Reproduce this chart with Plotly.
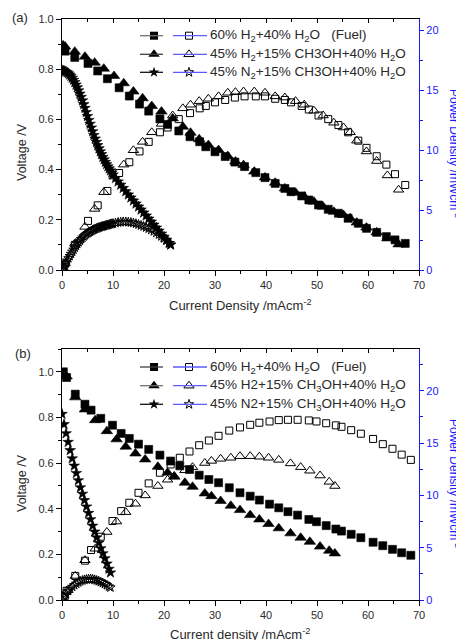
import plotly.graph_objects as go

# ---------------- data: panel (a) ----------------
a_fuel_x = [0.2, 0.6, 2.5, 5.1, 7.0, 8.9, 11.2, 13.2, 15.2, 17.0, 19.2, 20.7, 22.9, 25.1, 27.0, 28.2,
            30.0, 32.0, 33.9, 35.8, 38.0, 39.8, 41.8, 43.7, 44.9, 47.0, 48.4, 50.3, 52.2, 54.2, 56.1,
            58.1, 59.7, 61.7, 63.6, 65.3, 67.3]
a_fuel_v = [0.880, 0.872, 0.847, 0.823, 0.793, 0.762, 0.726, 0.693, 0.661, 0.633, 0.602, 0.580, 0.554,
            0.531, 0.511, 0.491, 0.471, 0.452, 0.430, 0.412, 0.388, 0.368, 0.345, 0.325, 0.312, 0.295,
            0.279, 0.259, 0.242, 0.226, 0.206, 0.186, 0.166, 0.150, 0.133, 0.120, 0.106]
a_fuel_p = [0.18, 0.52, 2.1, 4.1, 5.4, 6.6, 8.1, 9.0, 9.9, 10.7, 11.5, 11.9, 12.6, 13.1, 13.5, 13.7,
            14.0, 14.2, 14.4, 14.5, 14.5, 14.5, 14.3, 14.2, 14.0, 13.7, 13.4, 12.9, 12.6, 12.1, 11.5,
            10.8, 10.2, 9.5, 8.8, 8.0, 7.1]

a_h2m_x = [0.2, 0.6, 2.5, 4.5, 6.4, 8.2, 10.2, 12.1, 14.0, 15.8, 17.6, 19.5, 21.7, 23.7, 25.2, 26.9,
           28.7, 30.7, 32.5, 34.0, 35.6, 37.7, 39.8, 41.8, 43.7, 45.8, 47.5, 49.4, 51.2, 53.3, 55.2,
           56.5, 57.8, 59.7, 61.7, 63.8, 66.0]
a_h2m_v = [0.895, 0.890, 0.870, 0.850, 0.826, 0.802, 0.773, 0.744, 0.711, 0.684, 0.653, 0.631, 0.604,
           0.571, 0.547, 0.521, 0.498, 0.478, 0.454, 0.432, 0.418, 0.392, 0.369, 0.348, 0.325, 0.308,
           0.292, 0.272, 0.252, 0.232, 0.219, 0.206, 0.189, 0.169, 0.150, 0.126, 0.102]
a_h2m_p = [0.18, 0.53, 2.2, 3.6, 5.1, 6.5, 7.8, 8.8, 10.0, 10.7, 11.5, 12.2, 12.9, 13.5, 13.8, 14.1,
           14.3, 14.5, 14.8, 14.85, 14.9, 14.9, 14.8, 14.5, 14.4, 14.1, 13.8, 13.3, 12.9, 12.3, 11.9,
           11.5, 10.8, 9.9, 9.1, 7.9, 6.7]

a_n2m_x = [0, 0.25, 0.5, 0.75, 1, 1.25, 1.5, 1.75, 2, 2.25, 2.5, 2.75, 3, 3.25, 3.5, 3.75, 4, 4.25,
           4.5, 4.75, 5, 5.25, 5.5, 5.75, 6, 6.25, 6.5, 6.75, 7, 7.25, 7.5, 7.75, 8, 8.25, 8.5, 8.75,
           9, 9.25, 9.5, 9.75, 10, 10.5, 11, 11.5, 12, 12.5, 13, 13.5, 14, 14.5, 15, 15.5, 16, 16.5,
           17, 17.5, 18, 18.5, 19, 19.5, 20, 20.5, 21, 21.3]
a_n2m_v = [0.795, 0.794, 0.792, 0.790, 0.787, 0.783, 0.778, 0.772, 0.765, 0.757, 0.748, 0.738, 0.727,
           0.715, 0.702, 0.689, 0.675, 0.660, 0.645, 0.629, 0.613, 0.597, 0.582, 0.567, 0.552, 0.537,
           0.523, 0.510, 0.497, 0.484, 0.472, 0.461, 0.450, 0.440, 0.430, 0.421, 0.412, 0.404, 0.396,
           0.388, 0.380, 0.366, 0.352, 0.339, 0.326, 0.313, 0.300, 0.288, 0.276, 0.264, 0.252, 0.240,
           0.228, 0.216, 0.204, 0.192, 0.180, 0.168, 0.156, 0.144, 0.132, 0.120, 0.107, 0.100]
a_n2m_p = [0.0, 0.2, 0.4, 0.59, 0.79, 0.98, 1.17, 1.35, 1.53, 1.70, 1.87, 2.03, 2.18, 2.32, 2.46, 2.58,
           2.70, 2.81, 2.90, 2.99, 3.07, 3.14, 3.20, 3.26, 3.33, 3.38, 3.43, 3.47, 3.51, 3.55, 3.59,
           3.62, 3.65, 3.68, 3.71, 3.74, 3.77, 3.80, 3.83, 3.86, 3.88, 3.93, 3.97, 4.00, 4.02, 4.02,
           4.00, 3.97, 3.93, 3.87, 3.80, 3.72, 3.64, 3.55, 3.46, 3.35, 3.23, 3.10, 2.96, 2.81, 2.64,
           2.46, 2.25, 2.13]

# ---------------- data: panel (b) ----------------
b_fuel_x = [0.26, 0.9, 2.6, 4.5, 5.7, 7.6, 9.9, 11.6, 13.2, 15.0, 17.0, 19.2, 21.3, 23.1, 25.0, 26.9,
            28.8, 30.7, 32.8, 34.9, 36.9, 38.7, 40.7, 42.5, 44.3, 46.2, 48.4, 49.9, 51.8, 53.7, 54.8,
            56.7, 58.6, 61.0, 62.9, 64.8, 66.6, 68.4]
b_fuel_v = [1.000, 0.975, 0.902, 0.858, 0.832, 0.796, 0.766, 0.730, 0.708, 0.683, 0.660, 0.635, 0.609,
            0.588, 0.572, 0.547, 0.528, 0.514, 0.492, 0.470, 0.455, 0.438, 0.420, 0.404, 0.387, 0.372,
            0.353, 0.343, 0.326, 0.311, 0.302, 0.288, 0.273, 0.253, 0.238, 0.222, 0.207, 0.196]
b_fuel_p = [0.26, 0.88, 2.3, 3.76, 4.78, 6.05, 7.55, 8.5, 9.3, 10.25, 11.15, 12.17, 12.96, 13.6, 14.2,
            14.8, 15.25, 15.7, 16.2, 16.5, 16.75, 16.95, 17.07, 17.2, 17.23, 17.23, 17.17, 17.07, 16.9,
            16.7, 16.56, 16.24, 15.9, 15.4, 14.9, 14.46, 13.9, 13.4]

b_h2m_x = [0.3, 0.9, 2.6, 4.5, 6.5, 8.8, 10.7, 12.5, 14.4, 16.3, 18.8, 20.7, 22.0, 24.1, 25.6, 28.0,
           29.3, 31.1, 33.1, 34.9, 36.9, 38.7, 40.5, 42.5, 44.8, 46.8, 48.6, 50.6, 52.4, 53.5]
b_h2m_v = [0.990, 0.980, 0.888, 0.835, 0.788, 0.740, 0.704, 0.672, 0.642, 0.616, 0.584, 0.558, 0.540,
           0.514, 0.496, 0.467, 0.455, 0.434, 0.413, 0.394, 0.372, 0.353, 0.333, 0.314, 0.292, 0.273,
           0.255, 0.234, 0.216, 0.204]
b_h2m_p = [0.3, 0.88, 2.3, 3.8, 4.9, 6.5, 7.5, 8.4, 9.2, 10.0, 10.9, 11.5, 11.85, 12.4, 12.7, 13.1,
           13.3, 13.5, 13.6, 13.75, 13.75, 13.7, 13.6, 13.4, 13.06, 12.7, 12.36, 11.9, 11.3, 10.9]

b_n2m_x = [0, 0.4, 0.8, 1.2, 1.6, 2.0, 2.4, 2.8, 3.2, 3.6, 4.0, 4.4, 4.8, 5.2, 5.6, 6.0, 6.4, 6.8,
           7.2, 7.6, 8.0, 8.4, 8.8, 9.2, 9.5]
b_n2m_v = [0.815, 0.770, 0.730, 0.692, 0.656, 0.620, 0.588, 0.556, 0.524, 0.493, 0.465, 0.437, 0.409,
           0.381, 0.353, 0.325, 0.299, 0.274, 0.250, 0.226, 0.204, 0.182, 0.159, 0.136, 0.120]
b_n2m_p = [0.02, 0.31, 0.60, 0.85, 1.07, 1.26, 1.42, 1.56, 1.68, 1.78, 1.87, 1.93, 1.97, 1.99, 2.00,
           1.98, 1.93, 1.87, 1.80, 1.72, 1.63, 1.53, 1.42, 1.30, 1.20]

legend_a = ["60% H<sub>2</sub>+40% H<sub>2</sub>O   (Fuel)",
            "45% H<sub>2</sub>+15% CH3OH+40% H<sub>2</sub>O",
            "45% N<sub>2</sub>+15% CH3OH+40% H<sub>2</sub>O"]
legend_b = ["60% H<sub>2</sub>+40% H<sub>2</sub>O   (Fuel)",
            "45% H2+15% CH<sub>3</sub>OH+40% H<sub>2</sub>O",
            "45% N2+15% CH<sub>3</sub>OH+40% H<sub>2</sub>O"]

# ---------------- layout geometry (screen pixels) ----------------
# the page body adds an 8 px margin, so the figure is drawn 8 px in from the window corner
OFF = 8
W, H = 464 - OFF, 640 - OFF
PLOT_L, PLOT_R, PLOT_T, PLOT_B = 62, 419, 19, 600   # plot-area edges in screen pixels
L, T = PLOT_L - OFF, PLOT_T - OFF
R, B = W - (PLOT_R - OFF), H - (PLOT_B - OFF)
PW, PH = W - L - R, H - T - B


def fx(px):
    return (px - OFF - L) / PW


def fy(py):
    return (H - B - (py - OFF)) / PH


FONT = "Liberation Sans, Arial, sans-serif"
TXT = "#2a2a2a"
BLUE = "#1a1aff"
LBLUE = "#5a5aff"

fig = go.Figure()

filled = dict(fuel="square", h2m="triangle-up", n2m="star")
opened = dict(fuel="square-open", h2m="triangle-up-open", n2m="star-open")
sizes = dict(fuel=8, h2m=10, n2m=8)


def add_panel(xa, ya, ya2, series):
    for key, xs, vs, ps in series:
        fig.add_trace(go.Scatter(x=xs, y=vs, mode="markers", xaxis=xa, yaxis=ya, showlegend=False,
                                 marker=dict(symbol=filled[key], size=sizes[key], color="black",
                                             line=dict(width=0.6, color="black"))))
        fig.add_trace(go.Scatter(x=xs, y=ps, mode="markers", xaxis=xa, yaxis=ya2, showlegend=False,
                                 marker=dict(symbol=opened[key], size=sizes[key] - 1, color="black",
                                             line=dict(width=1, color="black"))))


add_panel("x", "y", "y2", [("fuel", a_fuel_x, a_fuel_v, a_fuel_p),
                           ("h2m", a_h2m_x, a_h2m_v, a_h2m_p),
                           ("n2m", a_n2m_x, a_n2m_v, a_n2m_p)])
add_panel("x2", "y3", "y4", [("fuel", b_fuel_x, b_fuel_v, b_fuel_p),
                             ("h2m", b_h2m_x, b_h2m_v, b_h2m_p),
                             ("n2m", b_n2m_x, b_n2m_v, b_n2m_p)])

# ---------------- custom legends ----------------
shapes = []
annotations = []
keys = ["fuel", "h2m", "n2m"]


def add_legend(rows_y, texts, gray_cols):
    for i, (py, txt) in enumerate(zip(rows_y, texts)):
        shapes.append(dict(type="line", xref="paper", yref="paper", x0=fx(140), x1=fx(163),
                           y0=fy(py), y1=fy(py), line=dict(color=gray_cols[i], width=1.3)))
        shapes.append(dict(type="line", xref="paper", yref="paper", x0=fx(173), x1=fx(207),
                           y0=fy(py), y1=fy(py), line=dict(color=LBLUE, width=1.3)))
        fig.add_trace(go.Scatter(x=[fx(154)], y=[fy(py)], mode="markers", xaxis="x5", yaxis="y5",
                                 showlegend=False,
                                 marker=dict(symbol=filled[keys[i]], size=sizes[keys[i]], color="black")))
        fig.add_trace(go.Scatter(x=[fx(189)], y=[fy(py)], mode="markers", xaxis="x5", yaxis="y5",
                                 showlegend=False,
                                 marker=dict(symbol=opened[keys[i]], size=sizes[keys[i]] - 1,
                                             color="black", line=dict(width=1))))
        annotations.append(dict(x=fx(208), y=fy(py), xref="paper", yref="paper", text=txt,
                                showarrow=False, xanchor="left", yanchor="middle",
                                font=dict(family=FONT, size=13.5, color=TXT)))


add_legend([35.7, 54.3, 72.3], legend_a, ["#707070", "#404040", "#101010"])
add_legend([367.0, 385.7, 404.3], legend_b, ["#404040", "#707070", "#101010"])


# ---------------- titles / labels ----------------
def ann(px, py, text, size=13, color=TXT, angle=0, xanchor="center"):
    annotations.append(dict(x=fx(px), y=fy(py), xref="paper", yref="paper", text=text,
                            showarrow=False, textangle=angle, xanchor=xanchor, yanchor="middle",
                            font=dict(family=FONT, size=size, color=color)))


ann(20, 18, "(a)", 13)
ann(23, 353, "(b)", 13)
ann(22, 152, "Voltage /V", 12.5, angle=-90)
ann(22, 483, "Voltage /V", 12.5, angle=-90)
ann(455, 153, "Power Density /mWcm<sup>-2</sup>", 12, BLUE, angle=90)
ann(455, 483, "Power Density /mWcm<sup>-2</sup>", 12, BLUE, angle=90)
ann(240, 305, "Current Density /mAcm<sup>-2</sup>", 13)
ann(240, 634, "Current density /mAcm<sup>-2</sup>", 13)

# ---------------- axes ----------------
dom_a = [fy(270), 1.0]
dom_b = [0.0, fy(349)]
tickfont = dict(family=FONT, size=11, color=TXT)
tickfont_b = dict(family=FONT, size=11, color=BLUE)


def xaxis_cfg(anchor):
    return dict(domain=[0, 1], anchor=anchor, range=[0, 70], dtick=10, tick0=0, ticks="outside",
                ticklen=5, tickwidth=1, tickcolor="black", showline=True, linecolor="black",
                linewidth=1.2, showgrid=False, zeroline=False, tickfont=tickfont,
                minor=dict(dtick=5, ticks="outside", ticklen=3, tickcolor="black"))


def topaxis_cfg(over, anchor):
    return dict(overlaying=over, anchor=anchor, side="top", range=[0, 70], dtick=10, tick0=0,
                ticks="inside", ticklen=4, tickcolor="black", showline=True, linecolor="black",
                linewidth=1.2, showgrid=False, zeroline=False, showticklabels=False,
                minor=dict(dtick=5, ticks="inside", ticklen=3, tickcolor="black"))


def yaxis_cfg(anchor, dom, rng):
    return dict(domain=dom, anchor=anchor, range=rng, dtick=0.2, tick0=0, tickformat=".1f",
                ticks="outside", ticklen=5, tickcolor="black", showline=True, linecolor="black",
                linewidth=1.2, showgrid=False, zeroline=False, tickfont=tickfont,
                minor=dict(dtick=0.1, ticks="outside", ticklen=3, tickcolor="black"))


def yaxis_right_cfg(over, anchor, rng):
    return dict(overlaying=over, anchor=anchor, side="right", range=rng, dtick=5, tick0=0,
                ticks="outside", ticklen=4, tickcolor=BLUE, showline=True, linecolor=BLUE,
                linewidth=1.2, showgrid=False, zeroline=False, tickfont=tickfont_b,
                minor=dict(dtick=2.5, ticks="outside", ticklen=3, tickcolor=BLUE))


fig.update_layout(
    width=W, height=H, margin=dict(l=L, r=R, t=T, b=B, autoexpand=False),
    paper_bgcolor="white", plot_bgcolor="rgba(0,0,0,0)", showlegend=False,
    xaxis=xaxis_cfg("y"),
    xaxis2=xaxis_cfg("y3"),
    xaxis3=topaxis_cfg("x", "y"),
    xaxis4=topaxis_cfg("x2", "y3"),
    yaxis=yaxis_cfg("x", dom_a, [0, 1.0]),
    yaxis2=yaxis_right_cfg("y", "x", [0, 20.96]),
    yaxis3=yaxis_cfg("x2", dom_b, [0, 1.1]),
    yaxis4=yaxis_right_cfg("y3", "x2", [0, 24]),
    xaxis5=dict(domain=[0, 1], anchor="y5", range=[0, 1], visible=False, fixedrange=True),
    yaxis5=dict(domain=[0, 1], anchor="x5", range=[0, 1], visible=False, fixedrange=True),
    shapes=shapes, annotations=annotations,
)

# dummy traces so that the top overlay axes get drawn
fig.add_trace(go.Scatter(x=[None], y=[None], xaxis="x3", yaxis="y", showlegend=False))
fig.add_trace(go.Scatter(x=[None], y=[None], xaxis="x4", yaxis="y3", showlegend=False))

fig.write_html("out.html")
